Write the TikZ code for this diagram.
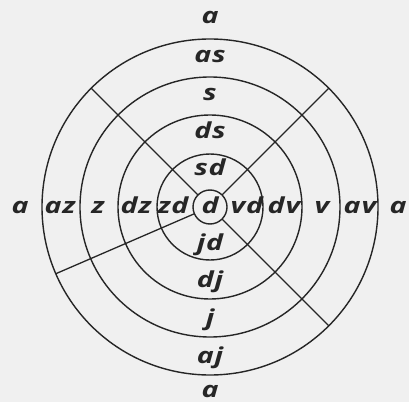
\documentclass[tikz,border=0pt]{standalone}
\usepackage{fontspec}
\newfontfamily\labfont[FakeStretch=1.3,LetterSpace=4]{Open Sans}
\tikzset{
  ring/.style={draw=black!85, line width=1.4pt},
  spoke/.style={draw=black!85, line width=1.3pt},
  lbl/.style={font=\labfont\bfseries\itshape\fontsize{22}{22}\selectfont, text=black!85, inner sep=0pt, anchor=base}
}
\begin{document}
\begin{tikzpicture}[x=1pt,y=1pt]
\fill[black!6] (0,0) rectangle (409,402);
\useasboundingbox (0,0) rectangle (409,402);
\coordinate (O) at (210,195);
% rings
\foreach \r in {17,53,92,130,168}{
  \draw[ring] (O) circle[radius=\r];
}
% spokes
\foreach \a in {45,135,-45,203.4}{
  \draw[spoke] ([shift={(\a:17)}]O) -- ([shift={(\a:168)}]O);
}
% labels
\node[lbl] (c) at (210,189) {d};
\foreach \t/\r/\n in {sd/37/t1, ds/74/t2, s/112/t3, as/150/t4, a/189/t5}{
  \node[lbl] (\n) at (210,189+\r) {\t};
}
\foreach \t/\r/\n in {jd/37/b1, dj/74/b2, j/112/b3, aj/150/b4, a/184/b5}{
  \node[lbl] (\n) at (210,189-\r) {\t};
}
\foreach \t/\r/\n in {zd/37/l1, dz/74/l2, z/112/l3, az/150/l4, a/190/l5}{
  \node[lbl] (\n) at (210-\r,189) {\t};
}
\foreach \t/\r/\n in {vd/37/r1, dv/74/r2, v/112/r3, av/150/r4, a/188/r5}{
  \node[lbl] (\n) at (210+\r,189) {\t};
}
\end{tikzpicture}
\end{document}
